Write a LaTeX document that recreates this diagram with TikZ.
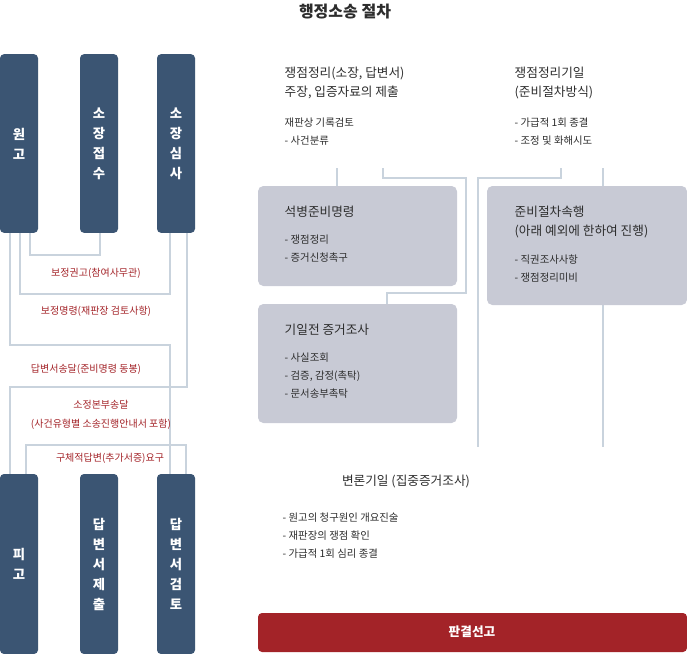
\documentclass[tikz,border=0pt]{standalone}
\usepackage{fontspec}
\setmainfont{Noto Sans CJK KR}
\usetikzlibrary{positioning}
\definecolor{slate}{RGB}{59,85,115}
\definecolor{panel}{RGB}{200,202,213}
\definecolor{wire}{RGB}{201,211,221}
\definecolor{note}{RGB}{163,35,40}
\definecolor{ink}{RGB}{45,45,45}
\tikzset{
  col/.style={fill=slate,rounded corners=3pt,text=white,font=\bfseries\fontsize{10}{15}\selectfont,align=center},
  card/.style={fill=panel,rounded corners=4pt},
  wireline/.style={draw=wire,line width=0.8pt},
  redlabel/.style={text=note,font=\fontsize{7.5}{9}\selectfont},
  head/.style={text=ink,font=\fontsize{9.5}{14}\selectfont,anchor=west,align=left},
  item/.style={text=ink,font=\fontsize{7.8}{13.5}\selectfont,anchor=west,align=left}
}
\begin{document}
\begin{tikzpicture}[x=0.75pt,y=-0.75pt]
   \useasboundingbox (0,0) rectangle (687,654);
   \node[text=ink,font=\bfseries\fontsize{12}{14}\selectfont] (title) at (345,12) {행정소송 절차};
   % connectors on the left
   \begin{scope}[wireline]
    \draw (30,233) |- (100,255) -- (100,233);
    \draw (20,233) |- (170,294) -- (170,233);
    \draw (10,233) |- (170,345) -- (170,474);
    \draw (187,233) |- (10,387) -- (10,474);
    \draw (26,474) |- (186,445) -- (186,474);
   \end{scope}
   % connectors on the right
   \begin{scope}[wireline]
    \draw (337,168) -- (337,186);
    \draw (383,168) |- (466,178) |- (387,293) -- (387,304);
    \draw (561,168) |- (478,178) -- (478,447);
    \draw (603,168) -- (603,186);
    \draw (603,305) -- (603,447);
   \end{scope}
   % columns
   \node[col,minimum width=28.5pt,minimum height=134pt] (plaintiff) at (19,143.5) {원\\고};
   \node[col,minimum width=28.5pt,minimum height=134pt] (filing) at (99,143.5) {소\\장\\접\\수};
   \node[col,minimum width=28.5pt,minimum height=134pt] (review) at (176,143.5) {소\\장\\심\\사};
   \node[col,minimum width=28.5pt,minimum height=135pt] (defendant) at (19,564) {피\\고};
   \node[col,minimum width=28.5pt,minimum height=135pt] (answer) at (99,564) {답\\변\\서\\제\\출};
   \node[col,minimum width=28.5pt,minimum height=135pt] (check) at (176,564) {답\\변\\서\\검\\토};
   % labels on the left
   \node[redlabel] (l1) at (96,273) {보정권고(참여사무관)};
   \node[redlabel] (l2) at (96,311) {보정명령(재판장 검토사항)};
   \node[redlabel] (l3) at (86,369) {답변서송달(준비명령 동봉)};
   \node[redlabel,align=center,font=\fontsize{7.5}{14}\selectfont] (l4) at (101,415) {소정본부송달\\(사건유형별 소송진행안내서 포함)};
   \node[redlabel] (l5) at (110,458) {구체적답변(추가서증)요구};
   % right side
   \node[head] (issues) at (280,83) {쟁점정리(소장, 답변서)\\주장, 입증자료의 제출};
   \node[item] (issuesa) at (280,132) {재판상 기록검토\\- 사건분류};
   \node[head] (date) at (510,83) {쟁점정리기일\\(준비절차방식)};
   \node[item] (datea) at (510,132) {- 가급적 1회 종결\\- 조정 및 화해시도};
   \fill[card] (258,186) rectangle (457,286);
   \fill[card] (258,304) rectangle (457,423);
   \fill[card] (487,186) rectangle (687,305);
   \node[head] (order) at (280,212) {석병준비명령};
   \node[item] (ordera) at (280,249) {- 쟁점정리\\- 증거신청촉구};
   \node[head] (early) at (280,330) {기일전 증거조사};
   \node[item] (earlya) at (280,376) {- 사실조회\\- 검증, 감정(촉탁)\\- 문서송부촉탁};
   \node[head] (prep) at (510,222) {준비절차속행\\(아래 예외에 한하여 진행)};
   \node[item] (prepa) at (510,269) {- 직권조사사항\\- 쟁점정리미비};
   \node[text=ink,font=\fontsize{9.5}{12}\selectfont] (hearing) at (406,481) {변론기일 (집중증거조사)};
   \node[item] (hearinga) at (278,536) {- 원고의 청구원인 개요진술\\- 재판장의 쟁점 확인\\- 가급적 1회 심리 종결};
   \fill[fill={rgb,255:red,163;green,35;blue,40},rounded corners=3pt] (258,613) rectangle (687,652);
   \node[text=white,font=\bfseries\fontsize{9.5}{12}\selectfont] (verdict) at (472,632) {판결선고};
\end{tikzpicture}
\end{document}
